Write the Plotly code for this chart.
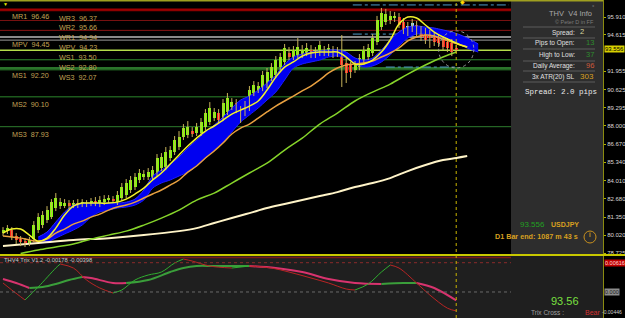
import plotly.graph_objects as go

# ---------------- data ----------------
bar_open = [80.19,80.33,80.41,79.97,79.75,79.60,79.46,79.75,80.41,80.77,
            81.13,81.35,82.01,82.15,82.23,82.37,82.23,82.37,82.30,82.30,
            82.37,82.52,82.30,82.44,82.59,82.66,82.44,82.74,82.95,83.32,
            83.54,84.05,84.26,84.26,84.26,84.56,84.92,84.99,85.65,86.08,
            86.45,87.18,87.32,87.61,87.47,87.47,87.90,88.27,88.56,88.92,
            88.56,89.00,89.36,89.65,89.14,88.92,89.29,90.38,90.60,90.74,
            90.96,91.47,91.69,92.27,92.64,93.29,93.00,93.15,93.15,93.29,
            93.51,93.36,93.29,93.29,93.29,93.51,93.36,93.29,92.56,92.42,
            92.05,92.27,92.64,93.00,93.29,94.09,95.18,95.55,95.69,95.84,
            95.91,95.55,94.82,95.11,95.33,94.97,94.82,94.75,94.46,94.38,
            94.24,94.09,94.02,93.66]
bar_high = [80.62,80.77,80.62,80.19,79.97,79.82,79.90,81.06,81.64,81.79,
            82.15,82.66,83.10,82.74,82.66,82.59,82.59,82.66,82.66,82.59,
            82.74,82.81,82.88,82.95,82.95,82.88,83.25,83.83,84.12,84.34,
            84.56,84.85,84.77,84.92,85.07,85.94,86.01,86.45,86.52,87.25,
            87.61,88.12,88.34,87.90,88.20,88.56,89.21,89.72,89.29,89.21,
            89.94,90.38,90.01,89.94,89.43,89.80,90.89,91.25,91.18,91.98,
            92.20,92.56,93.07,93.29,93.95,93.73,93.80,94.38,93.87,94.02,
            93.87,93.73,94.17,93.80,93.95,93.80,93.73,94.60,92.93,92.64,
            92.71,93.22,93.80,93.95,94.67,95.99,96.57,96.50,96.35,96.28,
            96.20,95.84,95.55,95.77,95.62,95.26,95.11,94.97,94.75,94.67,
            94.53,94.38,94.31,93.87]
bar_low = [79.97,80.12,79.68,79.39,79.24,79.17,79.24,79.53,80.19,80.55,
           80.92,81.21,81.79,81.94,82.01,81.94,82.01,82.01,82.08,82.08,
           82.15,82.15,82.08,82.23,82.37,82.37,82.23,82.52,82.74,83.10,
           83.32,83.83,84.05,84.05,84.05,84.34,84.70,84.77,85.43,85.87,
           86.23,86.96,87.10,87.18,87.25,87.25,87.69,88.05,88.34,88.20,
           88.34,88.78,89.14,88.92,88.20,88.70,89.07,90.16,90.38,90.52,
           90.74,91.25,91.47,92.05,92.42,92.78,92.78,92.93,92.93,93.07,
           92.93,92.93,93.07,93.07,93.07,92.93,93.00,90.82,91.11,91.47,
           91.84,92.05,92.42,92.78,93.07,93.87,94.97,95.33,95.40,95.55,
           95.11,94.67,94.53,94.82,94.53,94.17,93.95,93.66,93.80,93.73,
           93.51,93.36,93.07,93.29]
bar_close = [80.41,80.55,79.90,79.68,79.53,79.46,79.68,80.77,81.35,81.50,
             81.86,82.44,82.74,82.44,82.37,82.15,82.37,82.23,82.44,82.37,
             82.52,82.37,82.59,82.66,82.74,82.59,82.95,83.54,83.83,84.05,
             84.26,84.56,84.48,84.63,84.77,85.65,85.72,86.08,86.23,86.96,
             87.18,87.83,87.90,87.40,87.90,88.27,88.92,89.29,89.00,88.41,
             89.65,90.01,89.72,89.14,88.63,89.51,90.60,90.96,90.89,91.69,
             91.91,92.27,92.78,93.00,93.66,93.00,93.51,93.73,93.51,93.66,
             93.15,93.15,93.87,93.51,93.66,93.15,93.29,92.42,91.84,91.91,
             92.42,92.93,93.51,93.66,94.38,95.69,96.20,96.13,95.99,95.99,
             95.33,94.97,95.26,95.48,94.82,94.46,94.24,94.38,94.09,94.02,
             93.73,93.66,93.36,93.556]
highlight_bars = [92, 93]

yellow_x = [0,2,4,6,8,10,12,14,16,18,20,22,24,26,28,30,32,34,36,38,40,42,44,46,48,50,
            52,54,56,58,60,62,64,66,68,70,72,74,76,78,80,82,84,86,88,90,92,94,96,98,100,
            102,104,105.5]
yellow_ma = [80.19,80.48,80.48,80.04,79.60,79.82,80.55,81.50,82.15,82.37,82.37,82.37,82.37,
             82.44,82.66,83.03,83.46,84.05,84.56,85.21,85.87,86.52,87.10,87.61,87.98,88.41,
             88.85,89.14,89.43,89.80,90.60,91.54,92.27,92.64,93.07,93.29,93.36,93.36,93.36,
             93.00,92.49,92.49,92.78,93.36,94.24,95.40,95.91,95.84,95.33,94.82,94.46,94.17,
             93.87,93.73]
orange_x = yellow_x
orange_ma = [79.97,79.90,79.82,79.68,79.60,79.75,80.19,80.48,80.84,81.06,81.35,81.57,81.86,
             82.08,82.23,82.44,82.74,83.03,83.32,83.68,84.05,84.63,85.07,85.65,86.16,86.74,
             87.40,87.83,88.12,88.56,89.00,89.43,89.80,90.16,90.53,90.89,91.33,91.84,92.20,
             92.42,92.49,92.56,92.71,93.00,93.29,93.66,94.17,94.46,94.60,94.53,94.31,94.09,
             93.87,93.73]
band_x = list(range(8, 110, 2))
band_upper = [79.90,80.26,80.99,81.72,82.23,82.37,82.37,82.37,82.37,82.37,82.44,82.66,83.32,
              84.34,84.77,85.21,85.72,86.38,86.96,87.54,88.05,88.63,89.29,89.87,90.16,90.60,
              91.11,91.69,92.49,93.00,93.22,93.36,93.44,93.51,93.51,93.36,92.93,92.78,92.93,
              93.51,94.24,94.82,95.18,95.26,95.18,95.11,94.97,94.82,94.60,94.31,93.95]
band_lower = [79.46,79.53,79.82,80.12,80.41,80.77,81.35,81.72,81.86,82.01,82.08,82.23,82.59,
              83.46,83.83,84.05,84.34,84.63,85.07,85.65,86.23,86.81,87.54,88.27,88.78,89.29,
              89.87,90.45,91.33,92.20,92.49,92.64,92.78,93.00,93.07,92.93,92.49,92.27,92.35,
              92.64,93.15,93.80,94.38,94.67,94.67,94.53,94.38,94.17,93.87,93.58,93.36]
green_x = [4,8,12,16,20,24,28,32,36,40,44,48,52,56,60,64,68,72,76,80,84,88,92,96,100,103]
green_ma = [78.70,78.95,79.17,79.39,79.75,80.04,80.33,80.77,81.28,81.86,82.59,83.10,83.83,
            84.56,85.28,86.23,87.10,88.12,88.92,89.80,90.45,91.03,91.76,92.42,93.00,93.36]
cream_x = [0,8,16,24,32,40,44,48,52,56,60,64,68,72,76,80,84,88,92,96,100,103,105.5]
cream_ma = [79.24,79.46,79.68,79.82,80.04,80.33,80.55,80.92,81.28,81.64,82.01,82.30,82.59,
            82.88,83.17,83.54,83.83,84.19,84.70,85.14,85.50,85.65,85.79]

pivot_names = ["MR1", "WR3", "WR2", "WR1", "MPV", "WPV", "WS1", "WS2", "MS1", "WS3", "MS2", "MS3"]
pivot_values = [96.46, 96.37, 95.66, 94.94, 94.45, 94.23, 93.50, 92.80, 92.20, 92.07, 90.10, 87.93]
pivot_colors = ["#a00000", "#a00000", "#7a1212", "#8a1414", "#b8b8b8", "#9a9a9a",
                "#b4dc4a", "#2e8b2e", "#3a9a3a", "#2e8b2e", "#1d5a1d", "#2e7d2e"]
pivot_widths = [2, 1, 1, 1, 1.5, 1, 1.5, 1, 1.5, 1, 1.5, 1]

range_levels = [96.79, 94.67, 92.27]
range_start = [79.5, 79.5, 87.0]
range_end = [115.0, 99.0, 103.0]

trix_x = [0,2,5,8,12,13,16,19,22,25,27,30,33,36,39,41,43,47,52,56,61,65,70,74,78,80,83,86,88,90,94,97,101,103]
trix_fast = [0.00189,0.00042,-0.00168,0.00105,0.00504,0.00588,0.00504,0.00252,0.00084,-0.00021,
             0.00042,0.00252,0.00357,0.00420,0.00609,0.00693,0.00651,0.00546,0.00504,0.00546,
             0.00504,0.00420,0.00294,0.00189,0.00063,0.00042,0.00168,0.00420,0.00567,0.00504,
             0.00189,-0.00063,-0.00340,-0.00398]
signal_x = [0,3,6,9,12,15,18,20,25,28,33,38,41,44,48,56,62,68,74,80,86,91,94,98,103]
trix_signal = [0.00273,0.00189,0.00084,0.00105,0.00168,0.00252,0.00315,0.00294,0.00189,0.00189,
               0.00252,0.00420,0.00504,0.00546,0.00546,0.00546,0.00504,0.00420,0.00273,0.00189,
               0.00168,0.00189,0.00189,0.00084,-0.00178]
trix_levels = [0.00616, 0.0]
trix_axis_labels = ["0.00616", "0.000", "-0.00446"]

price_ticks = [95.910, 94.615, 91.955, 90.625, 89.295, 88.000, 86.670, 85.340,
               84.010, 82.680, 81.350, 80.020, 78.725]

info_labels = ["Pips to Open:", "High to Low:", "Daily Average:", "3x ATR(20) SL"]
info_values = ["13", "37", "96", "303"]
info_colors = ["#2e8b2e", "#2e8b2e", "#cd5a3c", "#d8a020"]
spread_value = "2"
symbol = "USDJPY"
bar_end_text = "D1 Bar end: 1087 m 43 s"

# ---------------- figure ----------------
W, H, PW = 625, 318, 603
MAIN_BOTTOM = 254
SUB_TOP = 256
PANEL_LEFT = 511


def px(x):
    return x / PW


def py(y):
    return (H - y) / H


n = len(bar_close)
idx = list(range(n))
last = n - 1

fig = go.Figure()

# blue cloud
fig.add_trace(go.Scatter(x=band_x, y=band_lower, mode="lines", hoverinfo="skip",
                         line=dict(color="#1c1cff", width=1, shape="spline", smoothing=0.8)))
fig.add_trace(go.Scatter(x=band_x, y=band_upper, mode="lines", hoverinfo="skip",
                         fill="tonexty", fillcolor="#0000f0",
                         line=dict(color="#2a2aff", width=1, shape="spline", smoothing=0.8)))
# long MAs
fig.add_trace(go.Scatter(x=cream_x, y=cream_ma, mode="lines",
                         line=dict(color="#fff4c8", width=2, shape="spline")))
fig.add_trace(go.Scatter(x=green_x, y=green_ma, mode="lines",
                         line=dict(color="#86d42a", width=1.5, shape="spline")))

# wicks
wx, wy = [], []
for i in idx:
    wx += [i, i, None]
    wy += [bar_low[i], bar_high[i], None]
fig.add_trace(go.Scatter(x=wx, y=wy, mode="lines", line=dict(color="#c8b45a", width=1)))

# bodies
base = [min(o, c) for o, c in zip(bar_open, bar_close)]
height = [max(abs(c - o), 0.03) for o, c in zip(bar_open, bar_close)]
colors = []
for i in idx:
    if i in highlight_bars:
        colors.append("#8fd8ff")
    elif bar_close[i] >= bar_open[i]:
        colors.append("#7cff00")
    else:
        colors.append("#ff1a1a")
fig.add_trace(go.Bar(x=idx, y=height, base=base, width=0.68,
                     marker=dict(color=colors, line=dict(width=0))))

# fast MAs
fig.add_trace(go.Scatter(x=orange_x, y=orange_ma, mode="lines",
                         line=dict(color="#e8a040", width=1.5, shape="spline")))
fig.add_trace(go.Scatter(x=yellow_x, y=yellow_ma, mode="lines",
                         line=dict(color="#f2f22a", width=1.5, shape="spline")))


# trix lines coloured by direction
def runs_by_direction(xs, ys):
    out = []
    seg_x, seg_y = [xs[0]], [ys[0]]
    prev = None
    for k in range(1, len(xs)):
        if ys[k] != ys[k - 1]:
            d = ys[k] > ys[k - 1]
        else:
            d = prev if prev is not None else True
        if prev is not None and d != prev:
            out.append((seg_x, seg_y, prev))
            seg_x, seg_y = [xs[k - 1]], [ys[k - 1]]
        seg_x.append(xs[k])
        seg_y.append(ys[k])
        prev = d
    out.append((seg_x, seg_y, prev))
    return out


for sx, sy, up in runs_by_direction(signal_x, trix_signal):
    fig.add_trace(go.Scatter(x=sx, y=sy, yaxis="y2", mode="lines",
                             line=dict(color="#3a9e3a" if up else "#d8336e", width=2, shape="spline")))
for sx, sy, up in runs_by_direction(trix_x, trix_fast):
    fig.add_trace(go.Scatter(x=sx, y=sy, yaxis="y2", mode="lines",
                             line=dict(color="#2fae2f" if up else "#b82424", width=1, shape="spline")))

shapes = []
# sub-window background
shapes.append(dict(type="rect", xref="paper", yref="paper", x0=0, x1=1, y0=0, y1=py(SUB_TOP),
                   fillcolor="#1f1f1f", line=dict(width=0), layer="below"))
# info panel
shapes.append(dict(type="rect", xref="paper", yref="paper", x0=px(PANEL_LEFT), x1=1,
                   y0=py(MAIN_BOTTOM), y1=1, fillcolor="#2d2d2d", line=dict(width=0), layer="below"))
for sy in [27, 38, 49, 61, 71, 82]:
    shapes.append(dict(type="line", xref="paper", yref="paper", x0=px(523), x1=px(595),
                       y0=py(sy), y1=py(sy), line=dict(color="#5c5c5c", width=1)))
# pivot lines
for v, c, w in zip(pivot_values, pivot_colors, pivot_widths):
    shapes.append(dict(type="line", xref="paper", yref="y", x0=0, x1=px(PANEL_LEFT), y0=v, y1=v,
                       line=dict(color=c, width=w), layer="below"))
# weekly range dash-dot lines
for v, a, b in zip(range_levels, range_start, range_end):
    shapes.append(dict(type="line", xref="x", yref="y", x0=a, x1=b, y0=v, y1=v,
                       line=dict(color="#4f9cc8", width=1, dash="dashdot"), layer="below"))
# trix level lines
shapes.append(dict(type="line", xref="paper", yref="y2", x0=0, x1=px(PANEL_LEFT),
                   y0=trix_levels[0], y1=trix_levels[0], line=dict(color="#8a2a2a", width=1, dash="dot")))
shapes.append(dict(type="line", xref="paper", yref="y2", x0=0, x1=px(PANEL_LEFT),
                   y0=trix_levels[1], y1=trix_levels[1], line=dict(color="#6a6a6a", width=1, dash="dot")))
shapes.append(dict(type="line", xref="paper", yref="paper", x0=0, x1=px(PANEL_LEFT),
                   y0=py(257.5), y1=py(257.5), line=dict(color="#7a1a1a", width=1.5)))
# separators
shapes.append(dict(type="line", xref="paper", yref="paper", x0=0, x1=W / PW,
                   y0=py(255), y1=py(255), line=dict(color="#c8c800", width=2)))
shapes.append(dict(type="line", xref="paper", yref="paper", x0=0, x1=1,
                   y0=py(0.8), y1=py(0.8), line=dict(color="#a0a020", width=1.5)))
# current bar marker
shapes.append(dict(type="line", xref="x", yref="paper", x0=last, x1=last, y0=0, y1=1,
                   line=dict(color="#c8b400", width=1, dash="dot")))
shapes.append(dict(type="circle", xref="x", yref="y", x0=last - 4, x1=last + 4,
                   y0=bar_close[-1] - 1.35, y1=bar_close[-1] + 1.35,
                   line=dict(color="#9a9a9a", width=1, dash="dot")))
# clock icon
shapes.append(dict(type="circle", xref="paper", yref="paper", x0=px(584), x1=px(596),
                   y0=py(243), y1=py(231), line=dict(color="#c8901e", width=1)))
shapes.append(dict(type="line", xref="paper", yref="paper", x0=px(590), x1=px(590),
                   y0=py(237), y1=py(232.5), line=dict(color="#c8901e", width=1)))

ann = []
LBL_FONT = "Liberation Sans"
for name, v in zip(pivot_names, pivot_values):
    xpix = 10 if name.startswith("M") else 57
    ann.append(dict(xref="paper", yref="y", x=px(xpix), y=v, xanchor="left", yanchor="top",
                    yshift=-1, showarrow=False, text=f"{name}\u00a0\u00a0{v:.2f}",
                    font=dict(family=LBL_FONT, size=7.2, color="#c4a455")))


def t(x, y, text, size, color, anchor="center", family=LBL_FONT, **kw):
    ann.append(dict(xref="paper", yref="paper", x=px(x), y=py(y), xanchor=anchor, yanchor="middle",
                    showarrow=False, text=text, font=dict(family=family, size=size, color=color), **kw))


t(570, 14, "THV\u00a0\u00a0V4 Info", 7.5, "#a8a8a8")
t(574, 22, "© Peter D in FF", 5.5, "#7c7c7c")
t(593, 7, "°", 6, "#888888")
t(577, 33, "Spread:", 6.5, "#e0e0e0", anchor="right")
t(578, 32, spread_value, 7.5, "#d8d8a0", anchor="left")
for k, (lab, val, col) in enumerate(zip(info_labels, info_values, info_colors)):
    yy = [43, 55, 66, 77][k]
    t(577, yy, lab, 6.5, "#e0e0e0", anchor="right")
    t(584 if len(val) < 3 else 578, yy, val, 7.5 if len(val) < 3 else 8, col, anchor="left")
t(523, 92, f"Spread: {float(spread_value):.1f} pips", 7.5, "#e8e8e8", anchor="left",
  family="Liberation Mono")
t(532, 224, f"{bar_close[-1]:.3f}", 8, "#22a022")
t(565, 224, f"<b>{symbol}</b>", 7, "#d8a020")
t(536, 237, f"<b>{bar_end_text}</b>", 7.2, "#d8a020")
t(5, 4, "▼", 5, "#e8e800")
t(462, 1.5, "◆", 6, "#ffd700")

# sub window texts
t(2, 260, f"THV4 Trix V1.2 {trix_signal[-1]:.5f} {trix_fast[-1]:.5f}", 5.8, "#c8c8c8", anchor="left")
t(565, 301, f"{bar_close[-1]:.2f}", 11, "#7ae040")
t(529, 312, "Trix Cross :", 6.5, "#a0a0a0", anchor="left")
t(583, 312, "Bear", 7, "#d03030", anchor="left")

# right-side axis boxes
ann.append(dict(xref="paper", yref="y", x=px(604), y=bar_close[-1], xanchor="left", yanchor="middle",
                showarrow=False, text=f"{bar_close[-1]:.3f}", bgcolor="#d8d000", borderpad=0,
                font=dict(family=LBL_FONT, size=6, color="#000000")))
ann.append(dict(xref="paper", yref="y2", x=px(604), y=trix_levels[0], xanchor="left", yanchor="middle",
                showarrow=False, text=trix_axis_labels[0], bgcolor="#c00000", borderpad=0,
                font=dict(family=LBL_FONT, size=5.5, color="#ffd8d8")))
ann.append(dict(xref="paper", yref="y2", x=px(604), y=trix_levels[1], xanchor="left", yanchor="middle",
                showarrow=False, text=trix_axis_labels[1], bgcolor="#8c8c8c", borderpad=0,
                font=dict(family=LBL_FONT, size=5.5, color="#1a1a1a")))
ann.append(dict(xref="paper", yref="paper", x=px(624), y=py(312), xanchor="right", yanchor="middle",
                showarrow=False, text=trix_axis_labels[2],
                font=dict(family=LBL_FONT, size=5, color="#d0d0d0")))

fig.update_layout(
    width=W, height=H, margin=dict(l=0, r=W - PW, t=0, b=0),
    paper_bgcolor="#000000", plot_bgcolor="#000000", showlegend=False,
    shapes=shapes, annotations=ann, bargap=0,
    xaxis=dict(range=[-0.682, 136.36], visible=False, anchor="y2"),
    yaxis=dict(domain=[py(MAIN_BOTTOM), 1], range=[78.665, 97.15], side="right",
               tickvals=price_ticks, ticktext=[f"{v:.3f}" for v in price_ticks],
               tickfont=dict(family=LBL_FONT, size=6, color="#d8d8d8"),
               ticks="outside", ticklen=2, tickcolor="#b0b000",
               showgrid=False, zeroline=False, showline=True, linecolor="#8a8a10",
               linewidth=1, automargin=False),
    yaxis2=dict(domain=[0, py(SUB_TOP)], range=[-0.00547, 0.00757], side="right",
                showticklabels=False, showgrid=False, zeroline=False, showline=True,
                linecolor="#8a8a10", linewidth=1, automargin=False),
)

fig.write_html("out.html")
